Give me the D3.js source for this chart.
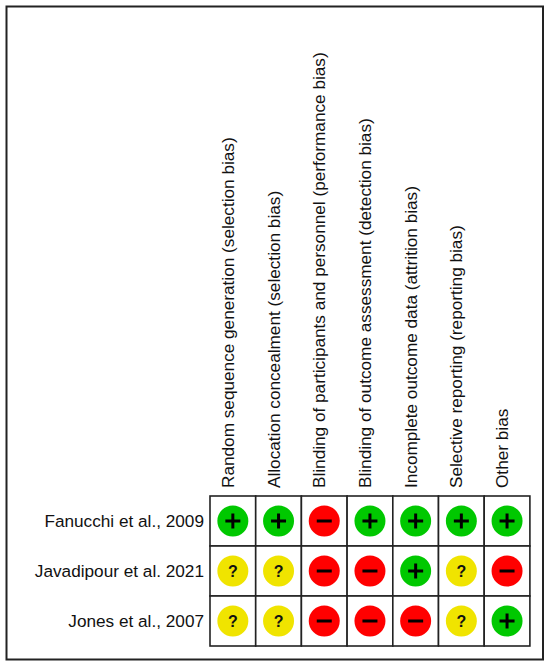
<!DOCTYPE html>
<html>
<head>
<meta charset="utf-8">
<script src="https://cdn.jsdelivr.net/npm/d3@7"></script>
<style>
  body { margin: 0; background: #fff; }
  text { font-family: "Liberation Sans", Arial, Helvetica, sans-serif; fill: #111; }
</style>
</head>
<body>
<div id="chart"></div>
<script>
// risk of bias summary
var domains = [
    "Random sequence generation (selection bias)",
    "Allocation concealment (selection bias)",
    "Blinding of participants and personnel (performance bias)",
    "Blinding of outcome assessment (detection bias)",
    "Incomplete outcome data (attrition bias)",
    "Selective reporting (reporting bias)",
    "Other bias"
];
var studies = ["Fanucchi et al., 2009", "Javadipour et al. 2021", "Jones et al., 2007"];
var fanucchi = ["+", "+", "-", "+", "+", "+", "+"];
var javadipour = ["?", "?", "-", "-", "+", "?", "-"];
var jones = ["?", "?", "-", "-", "-", "?", "+"];
var judgements = [fanucchi, javadipour, jones];

var width = 550, height = 667;
var gridLeft = 210, gridTop = 496, cellW = 45.7, cellH = 50;

var svg = d3.select("#chart").append("svg")
    .attr("width", width)
    .attr("height", height);

// outer frame
svg.append("rect")
    .attr("x", 6.5).attr("y", 6.5)
    .attr("width", 536.5).attr("height", 653)
    .attr("fill", "none")
    .attr("stroke", "#222")
    .attr("stroke-width", 2);

var x = d3.scaleBand()
    .domain(d3.range(domains.length))
    .range([gridLeft, gridLeft + cellW * domains.length]);

var y = d3.scaleBand()
    .domain(studies)
    .range([gridTop, gridTop + cellH * studies.length]);

var colour = d3.scaleOrdinal()
    .domain(["+", "?", "-"])
    .range(["#00c800", "#f0e400", "#ff0000"]);

// column headings
svg.selectAll(".domain-label")
    .data(domains)
    .enter().append("text")
    .attr("class", "domain-label")
    .attr("transform", function(d, i) {
        return "translate(" + (x(i) + x.bandwidth() / 2 + 1) + "," + (gridTop - 8) + ") rotate(-90)";
    })
    .attr("font-size", 17.2)
    .text(function(d) { return d; });

// row labels
svg.selectAll(".study-label")
    .data(studies)
    .enter().append("text")
    .attr("class", "study-label")
    .attr("x", gridLeft - 6)
    .attr("y", function(d) { return y(d) + y.bandwidth() / 2; })
    .attr("dy", "0.36em")
    .attr("text-anchor", "end")
    .attr("font-size", 17.2)
    .text(function(d) { return d; });

var cells = [];
judgements.forEach(function(row, r) {
    row.forEach(function(v, c) {
        cells.push({ study: studies[r], col: c, value: v });
    });
});

var cell = svg.selectAll(".cell")
    .data(cells)
    .enter().append("g")
    .attr("class", "cell")
    .attr("transform", function(d) {
        return "translate(" + x(d.col) + "," + y(d.study) + ")";
    });

cell.append("rect")
    .attr("width", x.bandwidth())
    .attr("height", y.bandwidth())
    .attr("fill", "#fff")
    .attr("stroke", "#222")
    .attr("stroke-width", 1.6);

var cx = x.bandwidth() / 2, cy = y.bandwidth() / 2;

cell.append("circle")
    .attr("cx", cx).attr("cy", cy)
    .attr("r", 15.5)
    .attr("fill", function(d) { return colour(d.value); });

// symbols
cell.filter(function(d) { return d.value !== "?"; })
    .append("line")
    .attr("x1", cx - 7.5).attr("x2", cx + 7.5)
    .attr("y1", cy).attr("y2", cy)
    .attr("stroke", "#000").attr("stroke-width", 3);

cell.filter(function(d) { return d.value === "+"; })
    .append("line")
    .attr("x1", cx).attr("x2", cx)
    .attr("y1", cy - 7.5).attr("y2", cy + 7.5)
    .attr("stroke", "#000").attr("stroke-width", 3);

cell.filter(function(d) { return d.value === "?"; })
    .append("text")
    .attr("x", cx).attr("y", cy)
    .attr("dy", "0.36em")
    .attr("text-anchor", "middle")
    .attr("font-size", 16)
    .attr("font-weight", "bold")
    .text("?");
</script>
</body>
</html>
